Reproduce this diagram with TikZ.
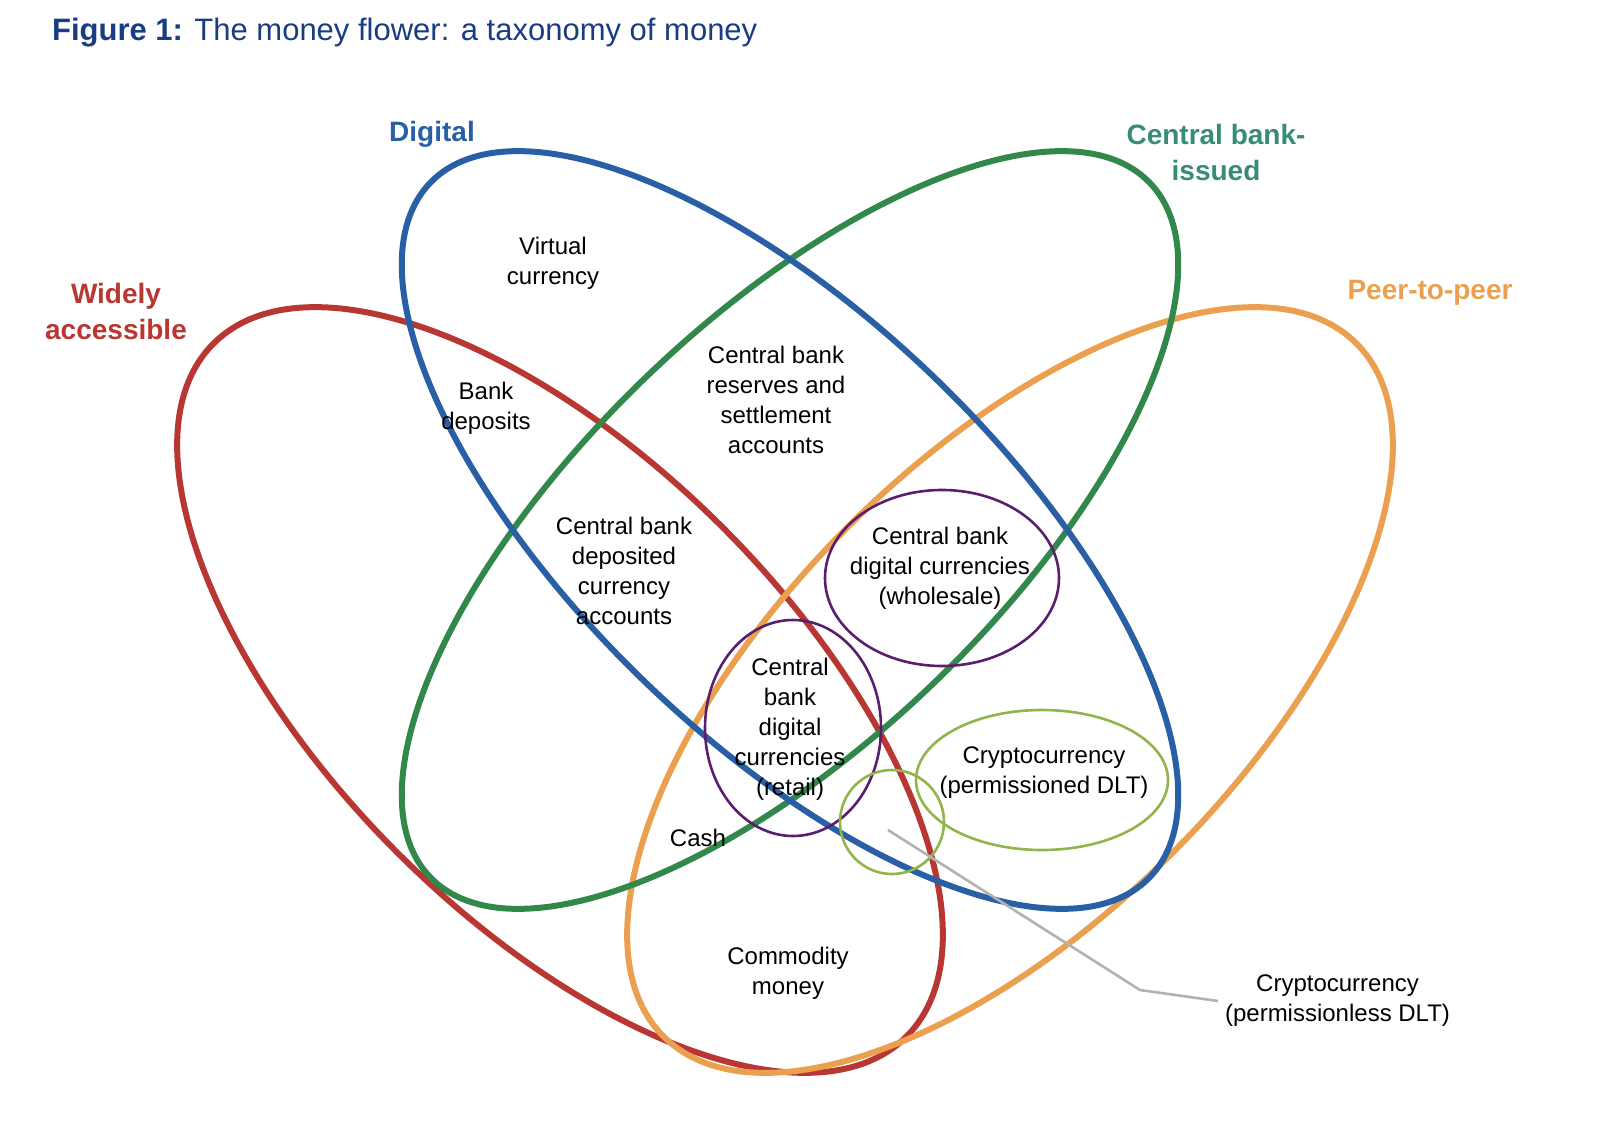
\documentclass[tikz,border=0pt]{standalone}
\usepackage{fontspec}
\setmainfont{Liberation Sans}
\definecolor{cred}{RGB}{185,55,50}
\definecolor{cblue}{RGB}{40,95,165}
\definecolor{cgreen}{RGB}{50,135,75}
\definecolor{corange}{RGB}{235,160,80}
\definecolor{cpurple}{RGB}{90,30,110}
\definecolor{clight}{RGB}{145,180,75}
\definecolor{ctitle}{RGB}{25,60,130}
\definecolor{cteal}{RGB}{55,140,120}
\begin{document}
\begin{tikzpicture}[x=0.5pt,y=0.5pt,
  big/.style={line width=3pt},
  small/.style={line width=1.3pt},
  lbl/.style={align=center,font=\fontsize{12}{15}\selectfont},
  cat/.style={align=center,font=\fontsize{14}{18}\selectfont\bfseries}]
\useasboundingbox (0,0) rectangle (1600,1126);
% big ellipses (y = 1126 - y_img)
\draw[big,cred] (560,436) ellipse[x radius=490,y radius=230,rotate=-45];
\draw[big,corange] (1010,436) ellipse[x radius=490,y radius=230,rotate=45];
\draw[big,cgreen] (790,596) ellipse[x radius=500,y radius=210,rotate=44];
\draw[big,cblue] (790,596) ellipse[x radius=500,y radius=210,rotate=-44];
% small ellipses
\draw[small,cpurple] (942,548) ellipse[x radius=117,y radius=88];
\draw[small,cpurple] (793,398) ellipse[x radius=88,y radius=108];
\draw[small,clight] (1042,346) ellipse[x radius=126,y radius=70];
\draw[small,clight] (892,304) circle[radius=52];
% title
\node[anchor=west,font=\fontsize{15.5}{18}\selectfont,text=ctitle] (title) at (45,1093) {\textbf{Figure 1:} The money flower: a taxonomy of money};
% category labels
\node[cat,text=cblue] (dig) at (432,992) {Digital};
\node[cat,text=cteal] (cbi) at (1216,974) {Central bank-\\issued};
\node[cat,text=cred] (wa) at (116,815) {Widely\\accessible};
\node[cat,text=corange] (p2p) at (1430,833) {Peer-to-peer};
% region labels
\node[lbl] (vc) at (553,863) {Virtual\\currency};
\node[lbl] (bd) at (486,718) {Bank\\deposits};
\node[lbl] (cbr) at (776,726) {Central bank\\reserves and\\settlement\\accounts};
\node[lbl] (cbd) at (624,555) {Central bank\\deposited\\currency\\accounts};
\node[lbl] (cbw) at (940,558) {Central bank\\digital currencies\\(wholesale)};
\node[lbl] (cbrt) at (790,397) {Central\\bank\\digital\\currencies\\(retail)};
\node[lbl] (cp) at (1044,353) {Cryptocurrency\\(permissioned DLT)};
\node[lbl] (cash) at (698,288) {Cash};
\node[lbl] (cm) at (788,153) {Commodity\\money};
\node[lbl,anchor=west] (cpl) at (1218,125) {Cryptocurrency\\(permissionless DLT)};
\coordinate (pt) at (888,296);
\draw[line width=1.3pt,gray!60] (pt) -- (1140,136) -- (cpl.west);
\end{tikzpicture}
\end{document}
